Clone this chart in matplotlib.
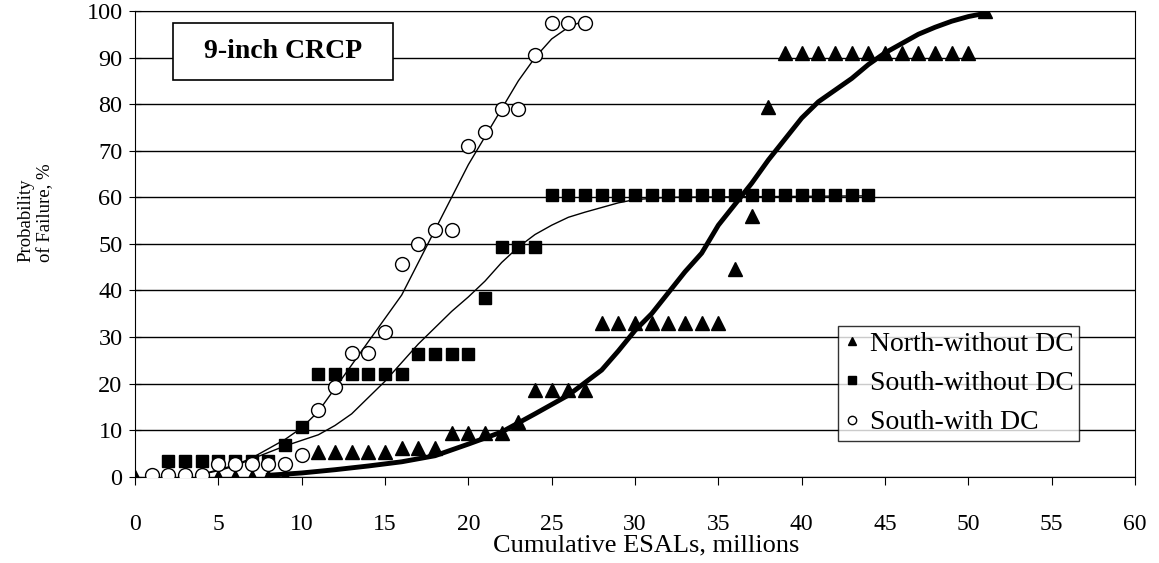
import matplotlib
matplotlib.use("Agg")
import matplotlib.pyplot as plt
from matplotlib.patches import Rectangle

plt.rcParams['font.family'] = ['Liberation Serif', 'DejaVu Serif']

# North-without DC (triangles)
north_x = [0, 5, 6, 7, 8, 9, 11, 12, 13, 14, 15, 16, 17, 18, 19, 20, 21, 22, 23,
           24, 25, 26, 27, 28, 29, 30, 31, 32, 33, 34, 35, 36, 37, 38,
           39, 40, 41, 42, 43, 44, 45, 46, 47, 48, 49, 50, 51]
north_y = [0, 0, 0, 0, 0, 0, 5.4, 5.4, 5.4, 5.4, 5.4, 6.2, 6.2, 6.2, 9.4, 9.4, 9.4, 9.4, 11.8,
           18.6, 18.6, 18.6, 18.6, 33, 33, 33, 33, 33, 33, 33, 33, 44.7, 56, 79.3,
           91, 91, 91, 91, 91, 91, 91, 91, 91, 91, 91, 91, 100]

# South-without DC (squares)
south_x = [2, 3, 4, 5, 6, 7, 8, 9, 10, 11, 12, 13, 14, 15, 16, 17, 18, 19, 20, 21,
           22, 23, 24, 25, 26, 27, 28, 29, 30, 31, 32, 33, 34, 35, 36, 37, 38,
           39, 40, 41, 42, 43, 44]
south_y = [3.3, 3.3, 3.3, 3.3, 3.3, 3.3, 3.3, 6.8, 10.7, 22, 22, 22, 22, 22, 22,
           26.3, 26.3, 26.3, 26.3, 38.3, 49.3, 49.3, 49.3] + [60.5] * 20

# South-with DC (circles)
dc_x = [1, 2, 3, 4, 5, 6, 7, 8, 9, 10, 11, 12, 13, 14, 15, 16, 17, 18, 19, 20,
        21, 22, 23, 24, 25, 26, 27]
dc_y = [0.3, 0.3, 0.3, 0.3, 2.7, 2.7, 2.7, 2.7, 2.7, 4.6, 14.3, 19.3, 26.5, 26.5,
        31, 45.7, 50, 53, 53, 71, 74, 79, 79, 90.5, 97.5, 97.5, 97.5]

# fitted curves
north_fit_x = [8, 10, 12, 14, 16, 18, 20, 22, 24, 26, 28, 29, 30, 31, 32, 33, 34, 35,
               36, 37, 38, 39, 40, 41, 42, 43, 44, 45, 46, 47, 48, 49, 50, 51]
north_fit_y = [0.3, 0.8, 1.5, 2.3, 3.2, 4.5, 7, 9.6, 13.5, 17.5, 22.9, 27, 31.4, 35,
               39.5, 44, 48, 54, 58.5, 63, 68, 72.5, 77, 80.5, 83, 85.5, 88.5, 91,
               93, 95, 96.5, 97.8, 98.8, 99.5]
south_fit_x = [4, 5, 6, 7, 8, 9, 10, 11, 12, 13, 14, 15, 16, 17, 18, 19, 20, 21, 22,
               23, 24, 25, 26, 27, 28, 29, 30, 32, 44]
south_fit_y = [0.5, 1.3, 2.3, 3.8, 5.2, 6.6, 7.8, 9, 11, 13.5, 17, 20.5, 24.5, 28.5,
               32, 35.5, 38.6, 42, 46, 49.3, 52, 54, 55.7, 56.8, 57.8, 58.8, 59.5,
               60, 60.3]
dc_fit_x = [4, 5, 6, 7, 8, 9, 10, 11, 12, 13, 14, 15, 16, 17, 18, 19, 20, 21, 22,
            23, 24, 25, 26, 27]
dc_fit_y = [0.5, 1.5, 2.5, 4, 6, 8, 10.5, 14, 19, 24, 29, 34, 39, 46, 53, 60, 67,
            73, 79, 85, 90, 94, 96.5, 98]

x_ticks = list(range(0, 61, 5))
y_ticks = list(range(0, 101, 10))

fig = plt.figure(figsize=(11.59, 5.63), dpi=100)
ax = fig.add_axes([0.1165, 0.1533, 0.8628, 0.8272])

ax.plot(dc_fit_x, dc_fit_y, color='black', lw=1.0, zorder=3)
ax.plot(south_fit_x, south_fit_y, color='black', lw=1.0, zorder=3)
ax.plot(north_fit_x, north_fit_y, color='black', lw=3.5, zorder=3)

ax.plot(north_x, north_y, ls='none', marker='^', ms=10, color='black',
        label='North-without DC', zorder=4)
ax.plot(south_x, south_y, ls='none', marker='s', ms=9, color='black',
        label='South-without DC', zorder=4)
ax.plot(dc_x, dc_y, ls='none', marker='o', ms=10, mfc='white', mec='black', mew=1.0,
        label='South-with DC', zorder=5)

ax.set_xlim(0, 60)
ax.set_ylim(0, 100)
ax.set_xticks(x_ticks)
ax.set_yticks(y_ticks)
ax.yaxis.grid(True, color='black', lw=1.0)
ax.set_axisbelow(True)
for s in ax.spines.values():
    s.set_linewidth(0.8)
ax.tick_params(axis='x', direction='out', length=6, pad=21, labelsize=17)
ax.tick_params(axis='y', direction='inout', length=8, pad=5, labelsize=17.5)
ax.set_xlabel('Cumulative ESALs, millions', fontsize=19)
ax.xaxis.set_label_coords(0.5115, -0.124)

fig.text(0.031, 0.623, 'Probability\nof Failure, %', rotation=90, ha='center',
         va='center', multialignment='left', fontsize=13.5, linespacing=1.2)

ax.add_patch(Rectangle((0.0377, 0.852), 0.22, 0.1216, transform=ax.transAxes,
                       facecolor='white', edgecolor='black', lw=1.2, zorder=6))
ax.text(0.1477, 0.913, '9-inch CRCP', transform=ax.transAxes, ha='center',
        va='center', fontsize=20, fontweight='bold', zorder=7)

leg = ax.legend(loc='lower left', bbox_to_anchor=(0.703, 0.077), fontsize=20,
                frameon=True, fancybox=False, edgecolor='black', markerscale=0.6,
                handlelength=0.6, handletextpad=0.35, borderaxespad=0,
                labelspacing=0.5, borderpad=0.2)
leg.get_frame().set_linewidth(1.0)
leg.set_zorder(8)

fig.savefig('out.png', dpi=100)
